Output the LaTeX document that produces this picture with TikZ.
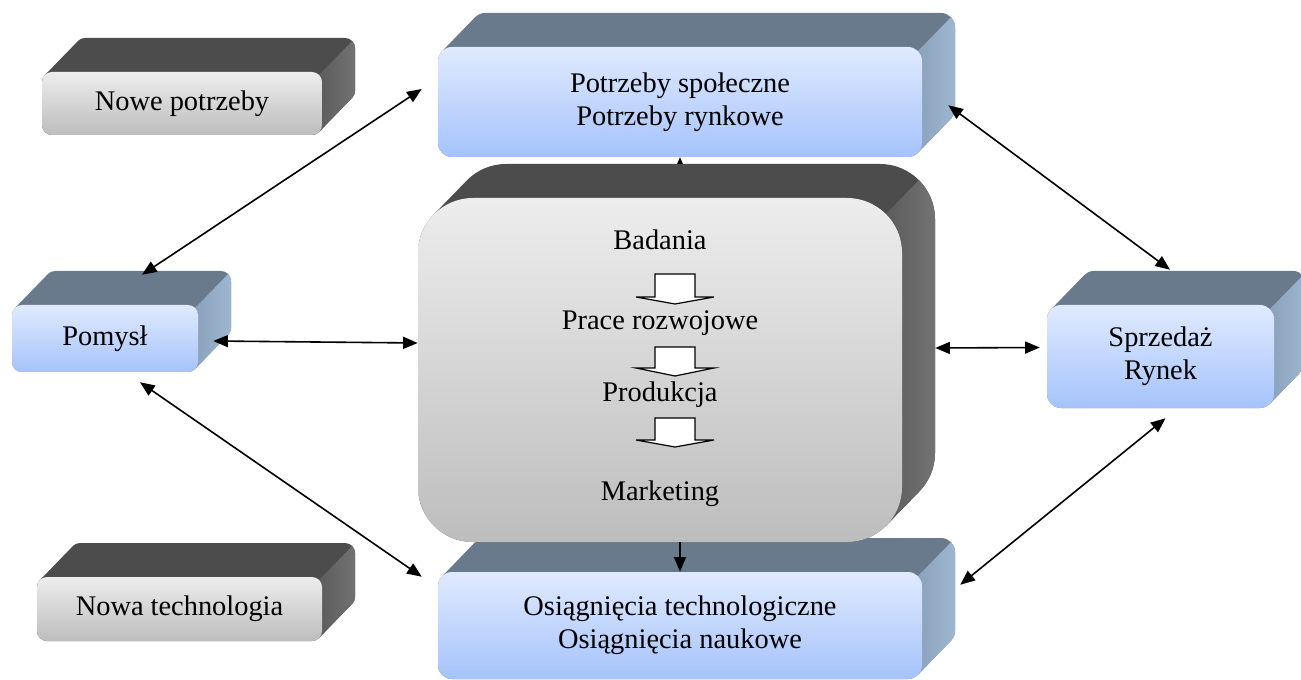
\documentclass[tikz,border=0pt]{standalone}
\usepackage{fontspec}
\setmainfont{Liberation Serif}
\usetikzlibrary{calc,arrows.meta}
\definecolor{bFT}{HTML}{E0EAFE}
\definecolor{bFB}{HTML}{A5C3FB}
\definecolor{bTop}{HTML}{687A8C}
\definecolor{bSideL}{HTML}{8AA2BB}
\definecolor{bSideR}{HTML}{A2BBD5}
\definecolor{gFT}{HTML}{EDEDED}
\definecolor{gFB}{HTML}{BDBDBD}
\definecolor{gTop}{HTML}{4C4C4C}
\definecolor{gSideL}{HTML}{5C5C5C}
\definecolor{gSideR}{HTML}{767676}
\tikzset{
  front/.style={inner sep=0pt, align=center, font=\fontsize{21.3}{25}\selectfont},
  lbl/.style={inner sep=0pt, anchor=base, font=\fontsize{21.3}{25}\selectfont},
  conn/.style={line width=1.2pt, {Triangle[length=11pt,width=9pt]}-{Triangle[length=11pt,width=9pt]}},
  conn1/.style={line width=1.2pt, -{Triangle[length=11pt,width=9pt]}},
  connsmall/.style={line width=0.8pt, -{Triangle[length=6pt,width=5pt]}},
  blockarrow/.style={draw=black, fill=white, line width=0.9pt, line join=miter}
}
% #1 name, #2 x1, #3 y1, #4 x2, #5 y2, #6 radius, #7 scheme, #8 text
\newcommand\tdbox[8]{%
  \pgfmathsetlengthmacro\tdr{#6*0.75pt}%
  \pgfmathsetlengthmacro\tdw{(#4-#2)*0.75pt}%
  \pgfmathsetlengthmacro\tdh{(#5-#3)*0.75pt}%
  \begin{scope}
    \clip[rounded corners=\tdr] \foreach \k in {0,...,24} {({#2+\k*33/24},{#3-\k*34/24}) rectangle ({#4+\k*33/24},{#5-\k*34/24})};
    \fill[#7Top] ({#2-10},{#3-60}) rectangle ({#4+60},{#5+10});
    \shade[left color=#7SideL, right color=#7SideR] ({#4-0.3*#6},{#3+0.3*#6}) -- ++(40,-41) -- ({#4+40},{#3+0.3*#6-41}) -- ({#4+40},{#5+10}) -- ({#4-0.3*#6},{#5+10}) -- cycle;
  \end{scope}
  \node[front, top color=#7FT, bottom color=#7FB, rounded corners=\tdr, minimum width=\tdw, minimum height=\tdh] (#1) at ({(#2+#4)/2},{(#3+#5)/2}) {#8};
  \node[inner sep=0pt, minimum width=\tdw, minimum height=\tdh] (#1b) at ({(#2+#4)/2+33},{(#3+#5)/2-34}) {};
}
\begin{document}
\begin{tikzpicture}[x=0.75pt,y=-0.75pt]
\useasboundingbox (0,0) rectangle (1301,680);
\fill[white] (0,0) rectangle (1301,680);
\clip (0,0) rectangle (1301,680);

\tdbox{np}{42}{72}{322}{135}{10}{g}{Nowe potrzeby}
\tdbox{ps}{438}{47}{922}{157}{14}{b}{Potrzeby społeczne\\Potrzeby rynkowe}
\tdbox{pom}{12}{305}{198}{372}{10}{b}{Pomysł}
\tdbox{spr}{1047}{305}{1274}{408}{14}{b}{Sprzedaż\\Rynek}
\tdbox{nt}{37}{577}{322}{641}{10}{g}{Nowa technologia}
\tdbox{os}{438}{572}{922}{679}{14}{b}{Osiągnięcia technologiczne\\Osiągnięcia naukowe}

\draw[connsmall] (ps.south |- 0,198) -- (ps.south);

\tdbox{cen}{418}{198}{902}{542}{55}{g}{}

% central content
\node[lbl] (bad) at (660,250) {Badania};
\node[lbl] (prz) at (660,330) {Prace rozwojowe};
\node[lbl] (prd) at (660,402) {Produkcja};
\node[lbl] (mkt) at (660,500) {Marketing};
\draw[blockarrow] (655,274) -- (695,274) -- (695,297) -- (714,297) -- (675,304) -- (636,297) -- (655,297) -- cycle;
\draw[blockarrow] (655,347) -- (695,347) -- (695,368) -- (714,368) -- (675,376) -- (636,368) -- (655,368) -- cycle;
\draw[blockarrow] (655,418) -- (695,418) -- (695,440) -- (714,440) -- (675,447) -- (636,440) -- (655,440) -- cycle;

% connectors
\draw[conn] ($(pomb.north)+(4,4)$) -- ($(ps.west)+(-16,-13)$);
\draw[conn] ($(pom.east)+(15,2.5)$) -- ($(cen.west)+(0,-27)$);
\draw[conn] ($(pom.south)+(35,10)$) -- ($(os.north west)+(-16,5)$);
\draw[conn1] (os.north |- cen.south) -- (os.north);
\draw[conn] ($(cenb.east)+(0,12)$) -- ($(spr.west)+(-7,-9)$);
\draw[conn] ($(psb.south east)+(-7,-18)$) -- ($(sprb.north)+(-23.5,-1)$);
\draw[conn] ($(spr.south)+(5,10)$) -- ($(os.north east)+(38,13)$);
\end{tikzpicture}
\end{document}
